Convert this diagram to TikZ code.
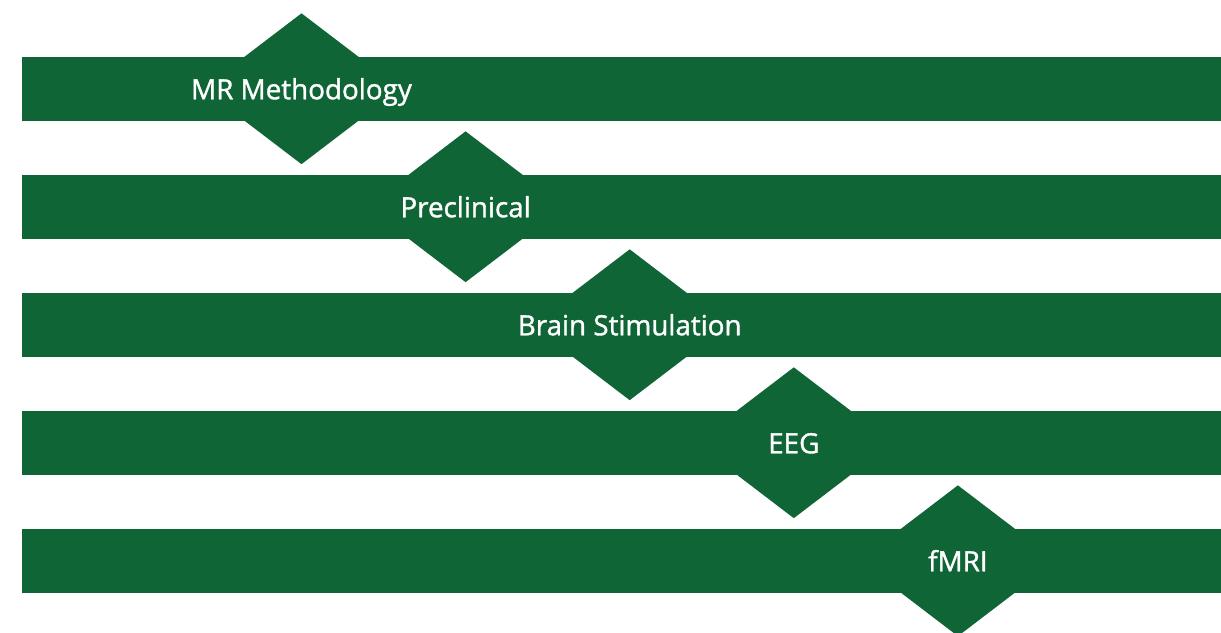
\documentclass[tikz,border=0pt]{standalone}
\usepackage{fontspec}
\setmainfont{Open Sans}
\newfontfamily\lblfont[FakeBold=1.3]{Open Sans}
\usetikzlibrary{shapes.geometric}
\definecolor{bargreen}{HTML}{0F6535}
\tikzset{
  bar/.style={fill=bargreen, draw=none},
  dmd/.style={diamond, fill=bargreen, draw=none, inner sep=0pt, minimum width=198pt, minimum height=151pt},
  lbl/.style={text=white, font=\lblfont\fontsize{27.8}{30}\selectfont, anchor=base, inner sep=0pt}
}
\begin{document}
\begin{tikzpicture}[x=1pt,y=-1pt]
\useasboundingbox (0,0) rectangle (1221,632);
\foreach \i/\name/\txt in {0/a/MR Methodology,1/b/Preclinical,2/c/Brain Stimulation,3/d/EEG,4/e/fMRI}{
  \pgfmathsetmacro{\ty}{57+118*\i}
  \pgfmathsetmacro{\cy}{\ty+31.75}
  \pgfmathsetmacro{\cx}{301.5+164.1*\i}
  \fill[bar] (22,\ty) rectangle (1221,\ty+63.5);
  \node[dmd] (\name) at (\cx,\cy) {};
  \node[lbl] (\name t) at ([yshift=-10.5pt]\name.center) {\txt};
}
\end{tikzpicture}
\end{document}
